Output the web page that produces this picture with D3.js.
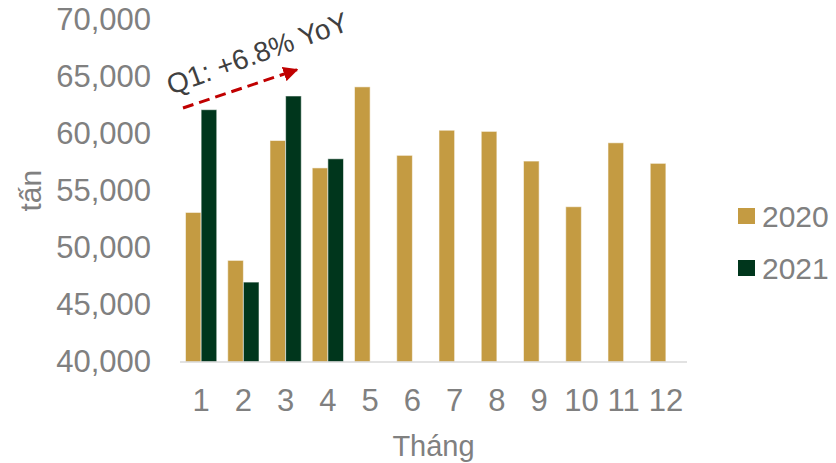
<!DOCTYPE html>
<html>
<head>
<meta charset="utf-8">
<script src="https://cdn.jsdelivr.net/npm/d3@7"></script>
<style>
  html, body { margin: 0; padding: 0; background: #fff; }
  svg { display: block; font-family: "Liberation Sans", Arial, sans-serif; }
</style>
</head>
<body>
<svg id="chart" width="836" height="463"></svg>
<script>
// Monthly volume (tonnes)
const months = ["1","2","3","4","5","6","7","8","9","10","11","12"];
const seriesNames = ["2020", "2021"];
const values2020 = [53100, 48900, 59400, 57000, 64100, 58100, 60300, 60200, 57600, 53600, 59200, 57400];
const values2021 = [62100, 47000, 63300, 57800, null, null, null, null, null, null, null, null];
const yTicks = [40000, 45000, 50000, 55000, 60000, 65000, 70000];
const colors = ["#C49B42", "#00361C"];
const noteText = "Q1: +6.8% YoY";

const svg = d3.select("#chart");
const plot = { left: 180, right: 687, top: 19.5, bottom: 362 };

const x = d3.scaleBand()
  .domain(months)
  .range([plot.left, plot.right])
  .paddingInner(0.26)
  .paddingOuter(0.13);

const xSub = d3.scaleBand()
  .domain(seriesNames)
  .range([0, x.bandwidth()]);

const y = d3.scaleLinear()
  .domain([40000, 70000])
  .range([plot.bottom, plot.top]);

const rows = months.map((m, i) => ({ month: m, vals: [values2020[i], values2021[i]] }));

// Bars
const groups = svg.append("g").selectAll("g")
  .data(rows).join("g")
  .attr("transform", d => `translate(${x(d.month)},0)`);

groups.selectAll("rect")
  .data(d => d.vals.map((v, j) => ({ v, j })).filter(e => e.v != null))
  .join("rect")
  .attr("x", e => xSub(seriesNames[e.j]))
  .attr("width", xSub.bandwidth())
  .attr("y", e => y(e.v))
  .attr("height", e => y.range()[0] - y(e.v))
  .attr("fill", e => colors[e.j])
  .attr("stroke", "rgba(255,255,255,0.55)")
  .attr("stroke-width", 1);

// Category axis
const xAxis = svg.append("g")
  .attr("transform", `translate(0,${plot.bottom})`)
  .call(d3.axisBottom(x).tickSize(0).tickPadding(38));
xAxis.select(".domain").attr("stroke", "#d9d9d9").attr("stroke-width", 1.5)
  .attr("d", `M${plot.left},0H${plot.right}`);
xAxis.selectAll("text")
  .attr("dy", "0.36em")
  .attr("y", 38)
  .attr("fill", "#808080")
  .style("font-size", "31px")
  .style("font-family", "'Liberation Sans', Arial, sans-serif");

// Value axis
const yAxis = svg.append("g")
  .attr("transform", `translate(${plot.left},0)`)
  .call(d3.axisLeft(y).tickValues(yTicks).tickSize(0).tickPadding(29).tickFormat(d3.format(",")));
yAxis.select(".domain").remove();
yAxis.selectAll("text")
  .attr("fill", "#808080")
  .style("font-size", "31px")
  .style("font-family", "'Liberation Sans', Arial, sans-serif");

// Axis titles
svg.append("text")
  .attr("x", (plot.left + plot.right) / 2)
  .attr("y", 456)
  .attr("text-anchor", "middle")
  .attr("fill", "#808080")
  .style("font-size", "29px")
  .text("Tháng");

svg.append("text")
  .attr("transform", `translate(30,${(plot.top + plot.bottom) / 2}) rotate(-90)`)
  .attr("dy", "0.36em")
  .attr("text-anchor", "middle")
  .attr("fill", "#808080")
  .style("font-size", "30px")
  .text("tấn");

// Legend
const legend = svg.append("g").attr("transform", "translate(738,0)");
const legendY = [216, 268];
seriesNames.forEach((name, i) => {
  legend.append("rect")
    .attr("x", 0).attr("y", legendY[i] - 8)
    .attr("width", 17).attr("height", 16)
    .attr("fill", colors[i]);
  legend.append("text")
    .attr("x", 24).attr("y", legendY[i])
    .attr("dy", "0.36em")
    .attr("fill", "#808080")
    .style("font-size", "30px")
    .text(name);
});

// Q1 growth annotation: dashed arrow over the first quarter
const defs = svg.append("defs");
defs.append("marker")
  .attr("id", "arrowHead")
  .attr("viewBox", "0 0 10 10")
  .attr("refX", 9).attr("refY", 5)
  .attr("markerWidth", 5).attr("markerHeight", 5)
  .attr("markerUnits", "strokeWidth")
  .attr("orient", "auto")
  .append("path")
  .attr("d", "M0,0L10,5L0,10Z")
  .attr("fill", "#C00000");

const ax0 = x("1") - 2.5, ay0 = y(62250);
const ax1 = x("3") + xSub("2021") + xSub.bandwidth() / 2 + 3.5, ay1 = y(65600);
svg.append("line")
  .attr("x1", ax0).attr("y1", ay0)
  .attr("x2", ax1).attr("y2", ay1)
  .attr("stroke", "#C00000")
  .attr("stroke-width", 3)
  .attr("stroke-dasharray", "11,6")
  .attr("marker-end", "url(#arrowHead)");

svg.append("text")
  .attr("transform", `translate(${ax0 - 12},${ay0 - 13}) rotate(-20)`)
  .attr("fill", "#404040")
  .style("font-size", "28px")
  .text(noteText);
</script>
</body>
</html>
